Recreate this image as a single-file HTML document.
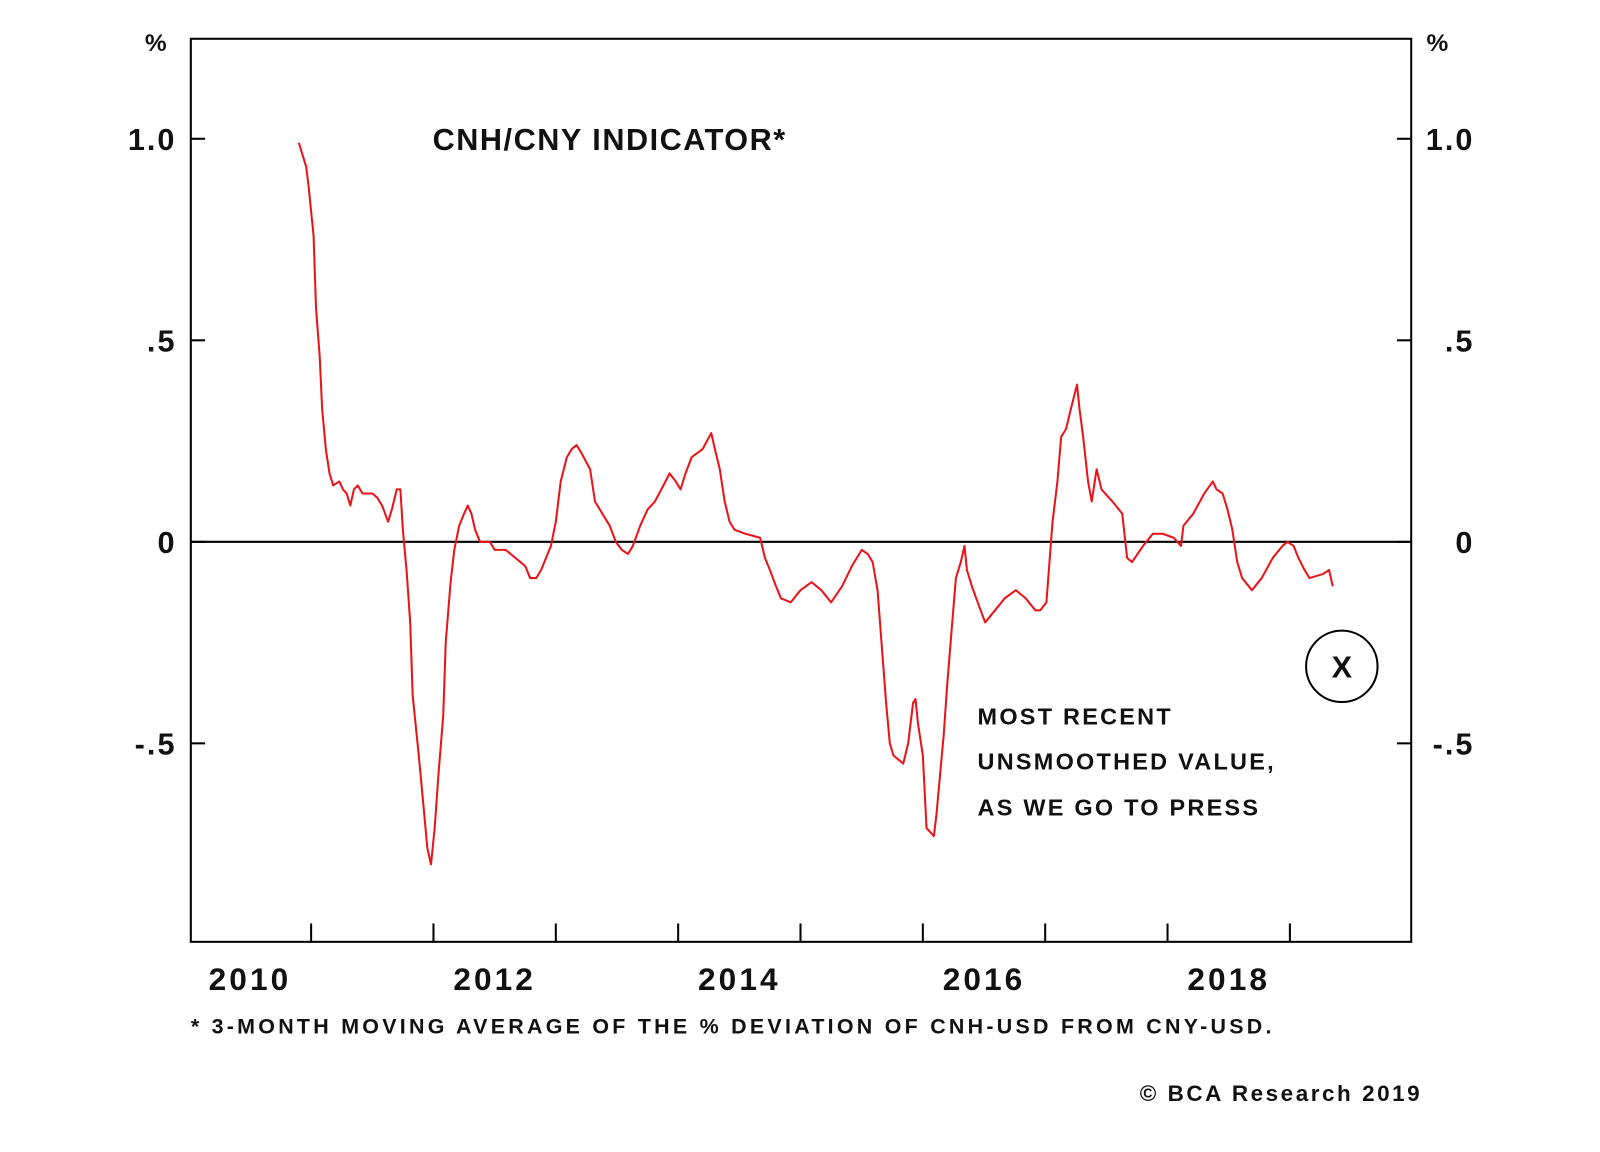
<!DOCTYPE html>
<html><head><meta charset="utf-8"><style>
html,body{margin:0;padding:0;background:#fff;}
svg{display:block;font-family:"Liberation Sans",Arial,sans-serif;font-weight:bold;}
</style></head><body>
<svg id="chart" width="1600" height="1152" viewBox="0 0 1600 1152">
<rect width="1600" height="1152" fill="#fff"/>
<g transform="scale(1.0204)">
<g id="axes"></g>
<g id="series"></g>
<text x="424" y="147" font-size="30" letter-spacing="1.5" fill="#111">CNH/CNY INDICATOR*</text>
<text x="142" y="50" font-size="24" fill="#111">%</text>
<text x="1398" y="50" font-size="24" fill="#111">%</text>
<g font-size="23" letter-spacing="2.2" fill="#111">
<text x="958" y="710">MOST RECENT</text>
<text x="958" y="754">UNSMOOTHED VALUE,</text>
<text x="958" y="799">AS WE GO TO PRESS</text>
</g>
<circle cx="1315" cy="653" r="35" fill="none" stroke="#000" stroke-width="2"/>
<text x="1315" y="664" font-size="30" text-anchor="middle" fill="#111">X</text>
<text x="187" y="1013" font-size="21" letter-spacing="3.2" fill="#111">* 3-MONTH MOVING AVERAGE OF THE % DEVIATION OF CNH-USD FROM CNY-USD.</text>
<text x="1117" y="1079" font-size="22" letter-spacing="2.5" fill="#111">© BCA Research 2019</text>
</g>
</svg>
<script>
const dates=[2010.90,2010.96,2010.98,2011.02,2011.04,2011.07,2011.09,2011.12,2011.15,2011.18,2011.23,2011.26,2011.29,2011.32,2011.35,2011.38,2011.42,2011.50,2011.54,2011.58,2011.63,2011.66,2011.70,2011.73,2011.75,2011.78,2011.81,2011.83,2011.88,2011.92,2011.95,2011.98,2012.01,2012.04,2012.08,2012.10,2012.14,2012.17,2012.21,2012.25,2012.28,2012.31,2012.34,2012.38,2012.46,2012.50,2012.59,2012.67,2012.75,2012.79,2012.84,2012.88,2012.96,2013.00,2013.04,2013.09,2013.13,2013.17,2013.21,2013.28,2013.32,2013.38,2013.44,2013.49,2013.54,2013.59,2013.63,2013.69,2013.75,2013.81,2013.88,2013.93,2013.98,2014.02,2014.06,2014.11,2014.20,2014.27,2014.30,2014.34,2014.38,2014.42,2014.46,2014.55,2014.67,2014.71,2014.75,2014.80,2014.84,2014.92,2015.00,2015.09,2015.17,2015.25,2015.34,2015.42,2015.50,2015.55,2015.59,2015.63,2015.67,2015.70,2015.73,2015.76,2015.84,2015.88,2015.92,2015.94,2015.96,2016.00,2016.03,2016.09,2016.11,2016.14,2016.17,2016.20,2016.24,2016.27,2016.31,2016.34,2016.36,2016.40,2016.46,2016.51,2016.59,2016.67,2016.76,2016.84,2016.92,2016.96,2017.01,2017.03,2017.06,2017.10,2017.13,2017.17,2017.21,2017.26,2017.28,2017.31,2017.35,2017.38,2017.42,2017.46,2017.55,2017.63,2017.67,2017.71,2017.80,2017.88,2017.96,2018.05,2018.11,2018.13,2018.21,2018.30,2018.37,2018.40,2018.45,2018.49,2018.53,2018.57,2018.61,2018.69,2018.77,2018.86,2018.94,2018.98,2019.03,2019.07,2019.12,2019.16,2019.27,2019.32,2019.35];
const values=[0.99,0.93,0.88,0.76,0.58,0.46,0.33,0.23,0.17,0.14,0.15,0.13,0.12,0.09,0.13,0.14,0.12,0.12,0.11,0.09,0.05,0.08,0.13,0.13,0.03,-0.07,-0.20,-0.38,-0.53,-0.66,-0.76,-0.80,-0.71,-0.58,-0.43,-0.25,-0.10,-0.02,0.04,0.07,0.09,0.07,0.03,0.00,0.00,-0.02,-0.02,-0.04,-0.06,-0.09,-0.09,-0.07,-0.01,0.05,0.15,0.21,0.23,0.24,0.22,0.18,0.10,0.07,0.04,0.00,-0.02,-0.03,-0.01,0.04,0.08,0.10,0.14,0.17,0.15,0.13,0.17,0.21,0.23,0.27,0.23,0.18,0.10,0.05,0.03,0.02,0.01,-0.04,-0.07,-0.11,-0.14,-0.15,-0.12,-0.10,-0.12,-0.15,-0.11,-0.06,-0.02,-0.03,-0.05,-0.12,-0.28,-0.40,-0.50,-0.53,-0.55,-0.50,-0.40,-0.39,-0.45,-0.53,-0.71,-0.73,-0.68,-0.58,-0.48,-0.35,-0.20,-0.09,-0.05,-0.01,-0.07,-0.11,-0.16,-0.20,-0.17,-0.14,-0.12,-0.14,-0.17,-0.17,-0.15,-0.07,0.05,0.15,0.26,0.28,0.33,0.39,0.33,0.26,0.15,0.10,0.18,0.13,0.10,0.07,-0.04,-0.05,-0.01,0.02,0.02,0.01,-0.01,0.04,0.07,0.12,0.15,0.13,0.12,0.08,0.03,-0.05,-0.09,-0.12,-0.09,-0.04,-0.01,0.00,-0.01,-0.04,-0.07,-0.09,-0.08,-0.07,-0.11];
const yTicks=[1.0,0.5,0,-0.5];
const yTickLabels=["1.0",".5","0","-.5"];
const xTickYears=[2011,2012,2013,2014,2015,2016,2017,2018,2019];
const xLabels=[2010,2012,2014,2016,2018];

const L=187,R=1383,T=38,B=923;
function xs(t){return 185+(t-2010)*119.9;}
function ys(v){return 531-v*395;}
const NS="http://www.w3.org/2000/svg";
const axes=document.getElementById('axes');
function mk(tag,attrs,parent){const e=document.createElementNS(NS,tag);for(const k in attrs)e.setAttribute(k,attrs[k]);parent.appendChild(e);return e;}

const frame=mk('rect',{x:L,y:T,width:R-L,height:B-T,fill:'none',stroke:'#000','stroke-width':2},axes);


const zl=mk('line',{x1:L,x2:R,y1:ys(0),y2:ys(0),stroke:'#000','stroke-width':2},axes);



yTicks.forEach((v,i)=>{
  const y=ys(v);
  const t1=mk('line',{x1:L,x2:L+14,y1:y,y2:y,stroke:'#000','stroke-width':2},axes);
  
  
  const t2=mk('line',{x1:R-14,x2:R,y1:y,y2:y,stroke:'#000','stroke-width':2},axes);
  
  
  const a=mk('text',{x:173,y:y+11,'font-size':30,'letter-spacing':2,'text-anchor':'end',fill:'#111'},axes);
  a.textContent=yTickLabels[i];
  
  
  const b=mk('text',{x:1445,y:y+11,'font-size':30,'letter-spacing':2,'text-anchor':'end',fill:'#111'},axes);
  b.textContent=yTickLabels[i];
  
  
});
xTickYears.forEach(yr=>{
  const x=xs(yr);
  const t=mk('line',{x1:x,x2:x,y1:B-18,y2:B,stroke:'#000','stroke-width':2},axes);
  
  
});
xLabels.forEach(yr=>{
  const lab=mk('text',{x:xs(yr+0.5),y:970,'font-size':31,'letter-spacing':3,'text-anchor':'middle',fill:'#111'},axes);
  lab.textContent=String(yr);
  
  
});
const pts=dates.map((d,i)=>xs(d).toFixed(1)+','+ys(values[i]).toFixed(1)).join(' ');
const line=mk('polyline',{points:pts,fill:'none',stroke:'#e8141a','stroke-width':2,'stroke-linejoin':'round'},document.getElementById('series'));


</script>
</body></html>
